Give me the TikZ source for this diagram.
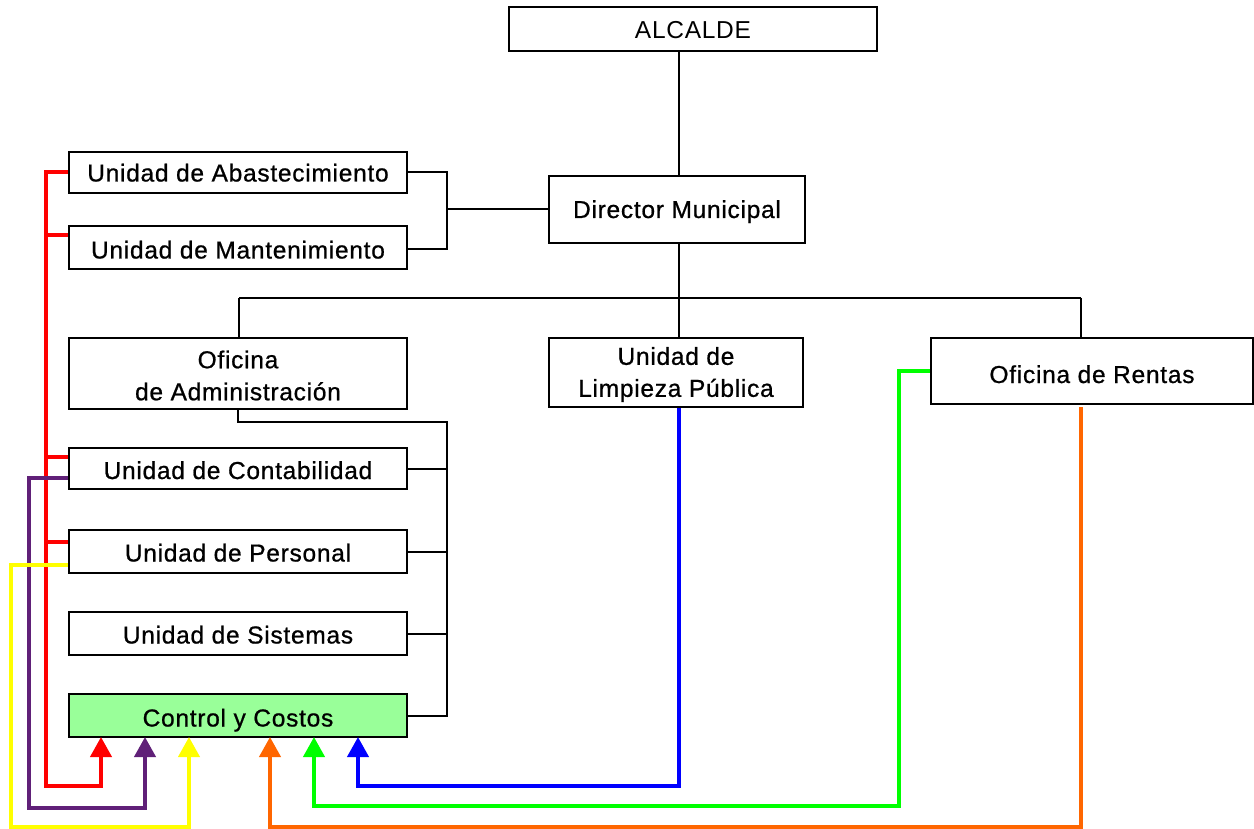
\documentclass[tikz,border=0pt]{standalone}
\usepackage{fontspec}
\setmainfont{Liberation Sans}[LetterSpace=3]
\newfontfamily\medfont{Liberation Sans}[LetterSpace=3, FakeBold=0.8]
\usetikzlibrary{arrows.meta}
\definecolor{cpurple}{RGB}{96,32,120}
\definecolor{corange}{RGB}{255,102,0}
\definecolor{cgreen}{RGB}{0,255,0}
\definecolor{cyellow}{RGB}{255,255,0}
\definecolor{cfill}{RGB}{153,255,153}
\begin{document}
\begin{tikzpicture}[x=1pt,y=-1pt,
  box/.style={draw=black, line width=2.2pt, rectangle, inner sep=0pt, align=center,
    text height=20pt, text depth=0pt,
    font=\medfont\fontsize{24.5}{32}\selectfont},
  twol/.style={inner sep=0pt, align=center, font=\medfont\fontsize{24.5}{32}\selectfont},
  bl/.style={draw=black, line width=2pt},
  cl/.style={line width=4pt},
  ar/.style={cl, -{Triangle[width=21pt,length=20pt]}}]
\fill[white] (0,0) rectangle (1254,829);
\useasboundingbox (0,0) rectangle (1254,829);

% nodes
\node[box, minimum width=368pt, minimum height=44pt, font=\rmfamily\fontsize{24.5}{32}\selectfont] (alc) at (693,29) {ALCALDE};
\node[box, minimum width=256pt, minimum height=67pt, text height=17pt] (dir) at (677,209.5) {Director Municipal};
\node[box, minimum width=338pt, minimum height=41pt, text height=18pt] (abast) at (238,172.5) {Unidad de Abastecimiento};
\node[box, minimum width=338pt, minimum height=43pt, text height=22pt] (mant) at (238,247.5) {Unidad de Mantenimiento};
\node[box, minimum width=338pt, minimum height=71pt,
  label={[twol, yshift=-2pt]center:Oficina\\de Administración}] (ofadm) at (238,373.5) {};
\node[box, minimum width=254pt, minimum height=69pt,
  label={[twol, yshift=-2pt]center:Unidad de\\Limpieza Pública}] (limp) at (676,372.5) {};
\node[box, minimum width=322pt, minimum height=66pt, text height=24pt] (rent) at (1092,371) {Oficina de Rentas};
\node[box, minimum width=338pt, minimum height=41pt, text height=21pt] (conta) at (238,468.5) {Unidad de Contabilidad};
\node[box, minimum width=338pt, minimum height=43pt] (pers) at (238,551.5) {Unidad de Personal};
\node[box, minimum width=338pt, minimum height=43pt] (sist) at (238,633.5) {Unidad de Sistemas};
\node[box, minimum width=338pt, minimum height=43pt, fill=cfill, text height=22pt] (ctrl) at (238,715.5) {Control y Costos};

% coordinates
\coordinate (trunk) at (679,298);
\coordinate (hl) at (239,298);
\coordinate (hr) at (1081,298);
\coordinate (bb) at (447,249);
\coordinate (atop) at (447,422);
\coordinate (ab) at (447,717);

% black connectors
\draw[bl] (alc.south -| trunk) -- (dir.north -| trunk);
\draw[bl] (dir.south -| trunk) -- (trunk);
\draw[bl] (hl) -- (hr);
\draw[bl] (hl) -- (ofadm.north -| hl);
\draw[bl] (trunk) -- (limp.north -| trunk);
\draw[bl] (hr) -- (rent.north -| hr);
\draw[bl] (abast.east) -| (bb) -- (mant.east |- bb);
\draw[bl] (dir.west -| bb) -- (dir.west);
\draw[bl] (ofadm.south) |- (atop) -- (ab);
\draw[bl] (conta.east) -- (conta.east -| ab);
\draw[bl] (pers.east) -- (pers.east -| ab);
\draw[bl] (sist.east) -- (sist.east -| ab);
\draw[bl] (ctrl.east) -- (ctrl.east -| ab);

% colored connectors
\coordinate (rv) at (46,786);
\coordinate (rA) at (101,737);
\coordinate (pv) at (29,808);
\coordinate (pA) at (145,737);
\coordinate (yv) at (11,827);
\coordinate (yA) at (189,737);
\coordinate (ov) at (1081,827);
\coordinate (oA) at (270,737);
\coordinate (gv) at (899,806);
\coordinate (gA) at (314,737);
\coordinate (bv) at (679,786);
\coordinate (bA) at (358,737);

\draw[ar, red] (abast.west) -| (rv) -| (rA);
\draw[cl, red] ([yshift=12.5pt]mant.west) -- ++(-23,0);
\draw[cl, red] ([yshift=11.5pt]conta.west) -- ++(-23,0);
\draw[cl, red] ([yshift=9.5pt]pers.west) -- ++(-23,0);
\draw[ar, cpurple] ([yshift=-9.5pt]conta.west) -| (pv) -| (pA);
\draw[ar, cyellow] ([yshift=-13.5pt]pers.west) -| (yv) -| (yA);
\draw[ar, corange] ([yshift=-2pt]rent.south -| ov) -- (ov) -| (oA);
\draw[ar, cgreen] (rent.west) -| (gv) -| (gA);
\draw[ar, blue] (limp.south -| bv) -- (bv) -| (bA);
\end{tikzpicture}
\end{document}
